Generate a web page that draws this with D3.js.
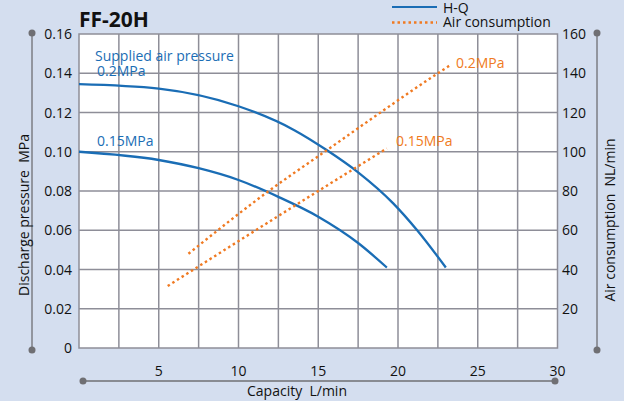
<!DOCTYPE html>
<html>
<head>
<meta charset="utf-8">
<script src="https://cdn.jsdelivr.net/npm/d3@7"></script>
<style>
  body { margin: 0; background: #d4deef; }
  svg { display: block; font-family: "Open Sans", sans-serif; }
</style>
</head>
<body>
<div id="vis"></div>
<script>
// H-Q curves, discharge pressure (MPa) vs capacity (L/min)
var hq02 = [[0,0.1345],[5,0.1322],[10,0.1232],[13.5,0.111],[15.5,0.101],[17.5,0.0895],
            [19.7,0.0737],[21.2,0.060],[23,0.041]];
var hq015 = [[0,0.100],[5,0.0958],[7.5,0.0916],[10,0.0856],[12.5,0.0770],[15,0.0669],
             [17.5,0.0535],[19.3,0.041]];
// air consumption (NL/min) vs capacity
var air02 = [[6.86,48],[11.9,80],[15.4,100],[22.5,140],[23.25,144]];
var air015 = [[5.56,31.6],[15.0,80],[19.3,101.7]];

var xTicks = [5,10,15,20,25,30];
var yLeftTicks = [0,0.02,0.04,0.06,0.08,0.10,0.12,0.14,0.16];
var yRightTicks = [20,40,60,80,100,120,140,160];

var W = 624, H = 401;
var blue = "#1a6db5", orange = "#f07a22", grey = "#6f6f73", gridc = "#8e8e98";

var svg = d3.select("#vis").append("svg").attr("width", W).attr("height", H);

var x = d3.scaleLinear().domain([0,30]).range([79, 557.5]);
var yL = d3.scaleLinear().domain([0,0.16]).range([348, 34]);
var yR = d3.scaleLinear().domain([0,160]).range([348, 34]);

// plot area
svg.append("rect").attr("x", x(0)).attr("y", yL(0.16))
  .attr("width", x(30)-x(0)).attr("height", yL(0)-yL(0.16)).attr("fill", "white");

// grid
svg.append("g").selectAll("line").data(d3.range(2.5, 30, 2.5)).enter().append("line")
  .attr("x1", d => x(d)).attr("x2", d => x(d)).attr("y1", yL(0)).attr("y2", yL(0.16))
  .attr("stroke", gridc).attr("stroke-width", 1.5);
svg.append("g").selectAll("line").data(yLeftTicks.slice(1, -1)).enter().append("line")
  .attr("y1", d => yL(d)).attr("y2", d => yL(d)).attr("x1", x(0)).attr("x2", x(30))
  .attr("stroke", gridc).attr("stroke-width", 1.5);
svg.append("rect").attr("x", x(0)).attr("y", yL(0.16))
  .attr("width", x(30)-x(0)).attr("height", yL(0)-yL(0.16))
  .attr("fill", "none").attr("stroke", gridc).attr("stroke-width", 1.5);

// curves
var lineL = d3.line().x(d => x(d[0])).y(d => yL(d[1])).curve(d3.curveMonotoneX);
var lineR = d3.line().x(d => x(d[0])).y(d => yR(d[1])).curve(d3.curveMonotoneX);

[hq02, hq015].forEach(function(s) {
  svg.append("path").attr("d", lineL(s)).attr("fill", "none")
    .attr("stroke", blue).attr("stroke-width", 2.3);
});
[air02, air015].forEach(function(s) {
  svg.append("path").attr("d", lineR(s)).attr("fill", "none")
    .attr("stroke", orange).attr("stroke-width", 2.4).attr("stroke-dasharray", "2.5,3");
});

// curve labels
function label(t, px, py, c) {
  svg.append("text").attr("x", px).attr("y", py).attr("fill", c)
    .style("font-size", "14px").text(t);
}
label("Supplied air pressure", 95, 61, blue);
label("0.2MPa", 97, 76, blue);
label("0.15MPa", 97, 146, blue);
label("0.2MPa", 456, 68, orange);
label("0.15MPa", 396, 146, orange);

// axes (gray lines with dots)
function axisLine(x1, y1, x2, y2) {
  svg.append("line").attr("x1", x1).attr("y1", y1).attr("x2", x2).attr("y2", y2)
    .attr("stroke", grey).attr("stroke-width", 1.3);
  svg.append("circle").attr("cx", x1).attr("cy", y1).attr("r", 3.5).attr("fill", grey);
  svg.append("circle").attr("cx", x2).attr("cy", y2).attr("r", 3.5).attr("fill", grey);
}
axisLine(32, 33, 32, 350);
axisLine(597, 33, 597, 350);
axisLine(83, 381, 555, 381);

// tick labels
svg.append("g").selectAll("text").data(yLeftTicks).enter().append("text")
  .attr("x", 72).attr("y", d => yL(d) + 5).attr("text-anchor", "end")
  .style("font-size", "14px").attr("fill", "#111")
  .text(d => d === 0 ? "0" : d3.format(".2f")(d));
svg.append("g").selectAll("text").data(yRightTicks).enter().append("text")
  .attr("x", 562).attr("y", d => yR(d) + 5)
  .style("font-size", "14px").attr("fill", "#111").text(d => d);
svg.append("g").selectAll("text").data(xTicks).enter().append("text")
  .attr("x", d => x(d)).attr("y", 376).attr("text-anchor", "middle")
  .style("font-size", "14px").attr("fill", "#111").text(d => d);

// axis titles
svg.append("text").attr("x", 297).attr("y", 396).attr("text-anchor", "middle")
  .style("font-size", "14px").style("white-space", "pre").attr("fill", "#111")
  .text("Capacity  L/min");
svg.append("text").attr("transform", "translate(29,215) rotate(-90)").attr("text-anchor", "middle")
  .style("font-size", "14px").style("white-space", "pre").attr("fill", "#111")
  .text("Discharge pressure  MPa");
svg.append("text").attr("transform", "translate(615,220) rotate(-90)").attr("text-anchor", "middle")
  .style("font-size", "14px").style("white-space", "pre").attr("fill", "#111")
  .text("Air consumption  NL/min");

// title
svg.append("text").attr("x", 79).attr("y", 27).style("font-size", "21px")
  .style("font-weight", "bold").attr("fill", "#111").text("FF-20H");

// legend
svg.append("line").attr("x1", 392).attr("x2", 437).attr("y1", 7).attr("y2", 7)
  .attr("stroke", blue).attr("stroke-width", 2.2);
svg.append("line").attr("x1", 392).attr("x2", 437).attr("y1", 22.5).attr("y2", 22.5)
  .attr("stroke", orange).attr("stroke-width", 2.4).attr("stroke-dasharray", "2.5,3");
svg.append("text").attr("x", 443).attr("y", 12.5).style("font-size", "14px").attr("fill", "#111").text("H-Q");
svg.append("text").attr("x", 443).attr("y", 27).style("font-size", "14px").attr("fill", "#111").text("Air consumption");
</script>
</body>
</html>
